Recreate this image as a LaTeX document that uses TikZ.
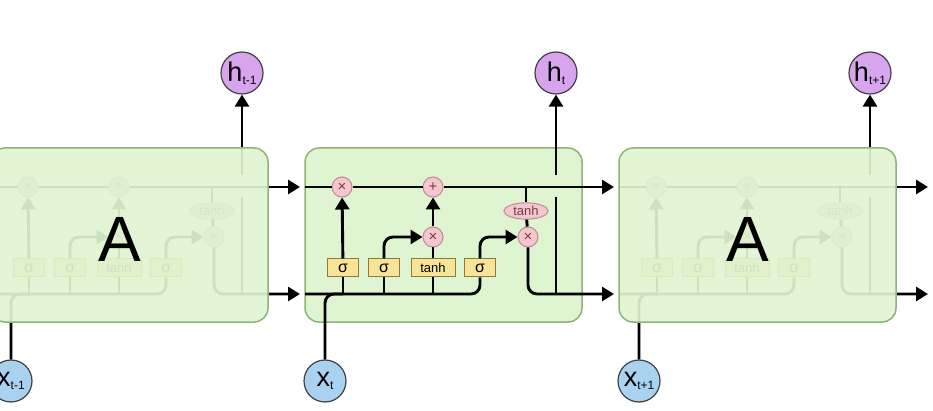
\documentclass[tikz,border=0pt]{standalone}
\usepackage{fontspec}
\setmainfont{Liberation Sans}
\usetikzlibrary{arrows.meta, shapes.geometric, calc}

\definecolor{cellfill}{HTML}{DFF4D0}
\definecolor{cellline}{HTML}{8DB477}
\definecolor{opfill}{HTML}{F4C6CE}
\definecolor{opline}{HTML}{C08A94}
\definecolor{optext}{HTML}{7A3A45}
\definecolor{gatefill}{HTML}{F8E496}
\definecolor{gateline}{HTML}{8C7B3A}
\definecolor{hfill}{HTML}{D8A4EE}
\definecolor{xfill}{HTML}{A9D2F0}

\newcommand{\lsub}[1]{\raisebox{-3pt}{\fontsize{12}{12}\selectfont #1}}

\newcommand{\lstmcell}[3]{%
  \node[op] (#1f) at (#2+37,187) {×};
  \node[op] (#1a) at (#2+128,187) {+};
  \node[act] (#1th) at (#2+221,211) {tanh};
  \node[op] (#1m) at (#2+128,237) {×};
  \node[op] (#1o) at (#2+223,237) {×};
  \node[gate] (#1s1) at (#2+38,268) {σ};
  \node[gate] (#1s2) at (#2+79,268) {σ};
  \node[gate, minimum width=44pt, font=\fontsize{13}{13}\selectfont] (#1tb) at (#2+128,268) {tanh};
  \node[gate] (#1s3) at (#2+175,268) {σ};
  \node[xnode] (#1x) at (#2+20,381) {x\lsub{#3}};
  \node[hnode] (#1h) at (#2+251,73) {h\lsub{#3}};
  \coordinate (#1cin) at (#2,187);
  \coordinate (#1hin) at (#2,294);
  \coordinate (#1cout) at (#2+309,187);
  \coordinate (#1hout) at (#2+309,294);
  \coordinate (#1hup) at (#2+251,294);
  \draw[line] (#1hup) -- ($(#1hup |- #1a)+(0,10)$);
  \draw[arr] ($(#1hup |- #1a)+(0,-12)$) -- (#1h);
  \draw[arr] (#1cin) -- (#1f) -- (#1a) -- (#1cout);
  \draw[line] (#1th) -- (#1th |- #1a);
  \draw[line] (#1th) -- (#1o);
  \draw[line] (#1hin) -| (#1s3);
  \draw[line] (#1x) |- (#1s1 |- #1hin);
  \draw[line] (#1s1 |- #1hin) -- (#1s1);
  \draw[line] (#1s2 |- #1hin) -- (#1s2);
  \draw[line] (#1tb |- #1hin) -- (#1tb);
  \draw[arr] (#1s1) -- (#1f);
  \draw[arr] (#1s2) |- (#1m);
  \draw[line] (#1tb) -- (#1m);
  \draw[arr] (#1m) -- (#1a);
  \draw[arr] (#1s3) |- (#1o);
  \draw[arr] (#1o) |- (#1hout);
}

\begin{document}
\begin{tikzpicture}[
    x=1pt, y=-1pt,
    line/.style={line width=2.9pt, rounded corners=9pt},
    arr/.style={line, -{Triangle[length=12pt, width=14pt]}},
    op/.style={circle, draw=opline, fill=opfill, line width=1pt, minimum size=20pt, inner sep=0pt, text=optext, font=\fontsize{15}{15}\selectfont},
    act/.style={ellipse, draw=opline, fill=opfill, line width=1pt, inner xsep=3pt, inner ysep=1pt, text=optext, font=\fontsize{13}{13}\selectfont},
    gate/.style={rectangle, draw=gateline, fill=gatefill, line width=1pt, minimum width=31pt, minimum height=18pt, inner sep=0pt, font=\fontsize{16}{16}\selectfont},
    hnode/.style={circle, draw=black!75, fill=hfill, line width=1.2pt, minimum size=42pt, inner sep=0pt, font=\fontsize{27}{27}\selectfont},
    xnode/.style={circle, draw=black!75, fill=xfill, line width=1.2pt, minimum size=42pt, inner sep=0pt, font=\fontsize{27}{27}\selectfont},
    cellbox/.style={rectangle, draw=cellline, fill=cellfill, line width=1.5pt, rounded corners=14pt, minimum width=277pt, minimum height=174pt},
    faded/.style={cellbox, fill opacity=0.92},
    bigA/.style={font=\fontsize{64}{64}\selectfont}
]
\useasboundingbox (0,0) rectangle (933,411);
\node[cellbox] (Mbox) at (443.5,235) {};
\lstmcell{L}{-9}{t-1}
\lstmcell{M}{305}{t}
\lstmcell{R}{619}{t+1}
\node[faded] (Lbox) at (129.5,235) {};
\node[faded] (Rbox) at (757.5,235) {};
\node[bigA] (LA) at (120,239) {A};
\node[bigA] (RA) at (748,239) {A};
\end{tikzpicture}
\end{document}
